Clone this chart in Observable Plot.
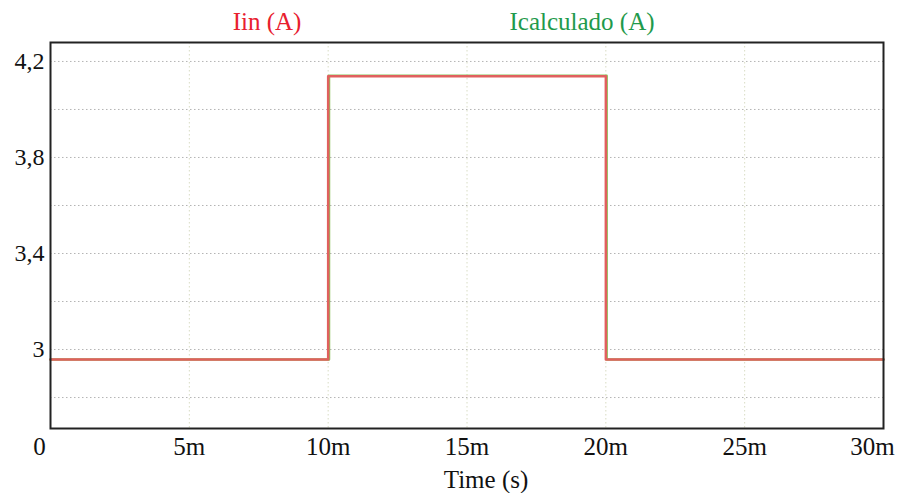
<!DOCTYPE html>
<html>
<head>
<meta charset="utf-8">
<script src="https://cdn.jsdelivr.net/npm/d3@7"></script>
<script src="https://cdn.jsdelivr.net/npm/@observablehq/plot@0.6"></script>
<style>
  html, body { margin: 0; padding: 0; background: #fff; }
  #chart { width: 897px; font-family: "Liberation Serif", "Times New Roman", serif; }
  #legend { position: relative; height: 32px; font-size: 25px; line-height: 25px; }
  #legend span { position: absolute; top: 9px; transform: translateX(-50%); white-space: nowrap; }
  svg { display: block; }
</style>
</head>
<body>
<div id="chart">
  <div id="legend"></div>
</div>
<script>
// Simulation time (ms) and current levels (A)
const timeIin = [0, 10, 20, 30];
const valuesIin = [2.958, 4.138, 2.958, 2.958];
const timeIcalc = [0, 10.03, 20.03, 30];
const valuesIcalc = [2.958, 4.141, 2.958, 2.958];

const seriesNames = ["Iin (A)", "Icalculado (A)"];
const seriesColors = ["#e0605e", "#8cc45e"];
const legendTextColors = ["#e8202e", "#1f9a4c"];

const xTicks = [0, 5, 10, 15, 20, 25, 30];
const xEndTicks = [0, 30];
const xMidTicks = [5, 10, 15, 20, 25];
const yLabelTicks = [3, 3.4, 3.8, 4.2];
const yGridTicks = [2.8, 3.0, 3.2, 3.4, 3.6, 3.8, 4.0, 4.2];
const xLabel = "Time (s)";

const fmtX = d => d === 0 ? "0" : `${d}m`;
const fmtY = d => String(d).replace(".", ",");

const iin = timeIin.map((t, i) => ({t, v: valuesIin[i]}));
const icalc = timeIcalc.map((t, i) => ({t, v: valuesIcalc[i]}));

// Legend above the plot
const legend = document.getElementById("legend");
const legendCenters = [267, 582];
seriesNames.forEach((name, i) => {
  const s = document.createElement("span");
  s.textContent = name;
  s.style.color = legendTextColors[i];
  s.style.left = legendCenters[i] + "px";
  legend.appendChild(s);
});

const plot = Plot.plot({
  width: 897,
  height: 461,
  marginTop: 10,
  marginBottom: 65,
  marginLeft: 50,
  marginRight: 14,
  style: {fontFamily: "'Liberation Serif', 'Times New Roman', serif", background: "#fff"},
  x: {domain: [0, 30], axis: null},
  y: {domain: [2.671, 4.279], axis: null},
  marks: [
    Plot.ruleY(yGridTicks, {stroke: "#b4b4b4", strokeWidth: 1, strokeDasharray: "1.5,2.5"}),
    Plot.ruleX(xTicks, {stroke: "#d8dcc4", strokeWidth: 1, strokeDasharray: "1.5,2.5"}),
    Plot.line(icalc, {x: "t", y: "v", curve: "step-after", stroke: seriesColors[1], strokeWidth: 2.5}),
    Plot.line(iin, {x: "t", y: "v", curve: "step-after", stroke: seriesColors[0], strokeWidth: 2.5}),
    Plot.frame({stroke: "#222", strokeWidth: 2}),
    // y tick labels
    Plot.text(yLabelTicks, {y: d => d, text: fmtY, frameAnchor: "left", textAnchor: "end", dx: -6, fontSize: 24, fill: "#111"}),
    // x tick labels
    Plot.text(xMidTicks, {x: d => d, text: fmtX, frameAnchor: "bottom", lineAnchor: "top", dy: 9, fontSize: 25, fill: "#111"}),
    Plot.text(xEndTicks, {x: d => d, text: fmtX, frameAnchor: "bottom", lineAnchor: "top", dy: 9, dx: -11, fontSize: 25, fill: "#111"}),
    // x axis title
    Plot.text([xLabel], {frameAnchor: "bottom", lineAnchor: "top", dy: 42, dx: 19, fontSize: 25, fill: "#111"})
  ]
});

document.getElementById("chart").appendChild(plot);
</script>
</body>
</html>
